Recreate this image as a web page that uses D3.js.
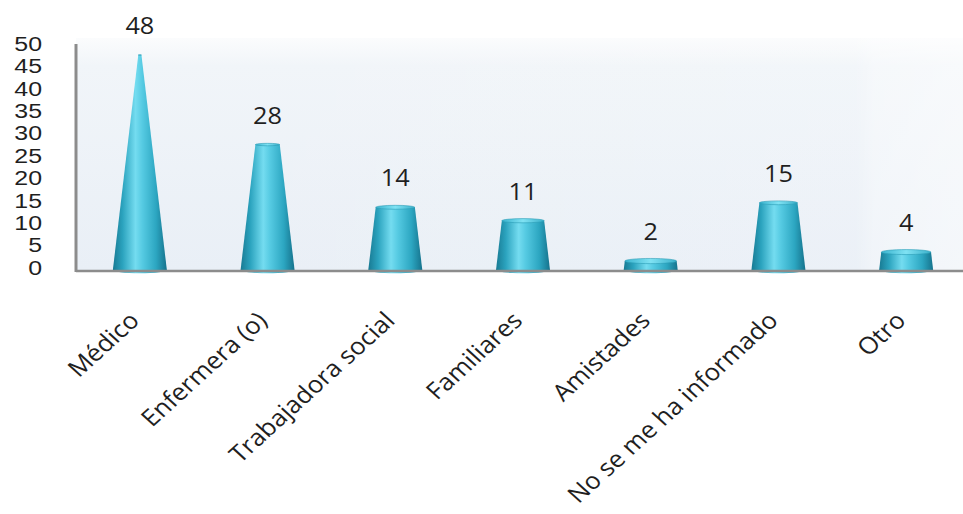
<!DOCTYPE html>
<html>
<head>
<meta charset="utf-8">
<script src="https://cdn.jsdelivr.net/npm/d3@7"></script>
<style>
  html, body { margin: 0; padding: 0; background: #fff; }
  svg { display: block; }
</style>
</head>
<body>
<svg id="chart" width="963" height="514"></svg>
<script>
const categories = ["Médico", "Enfermera (o)", "Trabajadora social", "Familiares", "Amistades", "No se me ha informado", "Otro"];
const values = [48, 28, 14, 11, 2, 15, 4];
const yTicks = [0, 5, 10, 15, 20, 25, 30, 35, 40, 45, 50];

const svg = d3.select("#chart");
const W = 963, H = 514;
const plot = { left: 76, right: 970, top: 46, bottom: 270 };
const SX = 1.1; // horizontal stretch of the original picture's text

const x = d3.scaleBand().domain(categories).range([plot.left, plot.right]).padding(0);
const y = d3.scaleLinear().domain([0, 50]).range([plot.bottom, plot.top]);
// cone half-width shrinks linearly toward an apex slightly above the axis max
const halfW = d3.scaleLinear().domain([0, 51]).range([27, 0]);

const defs = svg.append("defs");
const bg = defs.append("linearGradient").attr("id", "bgGrad")
  .attr("x1", 0).attr("y1", 0).attr("x2", 0).attr("y2", 1);
bg.append("stop").attr("offset", 0).attr("stop-color", "#fbfcfd");
bg.append("stop").attr("offset", 0.12).attr("stop-color", "#f1f5f9");
bg.append("stop").attr("offset", 1).attr("stop-color", "#e9eff6");

const bgH = defs.append("linearGradient").attr("id", "bgGradH")
  .attr("x1", 0).attr("y1", 0).attr("x2", 1).attr("y2", 0);
bgH.append("stop").attr("offset", 0).attr("stop-color", "#ffffff").attr("stop-opacity", 0);
bgH.append("stop").attr("offset", 0.88).attr("stop-color", "#ffffff").attr("stop-opacity", 0.1);
bgH.append("stop").attr("offset", 0.9).attr("stop-color", "#ffffff").attr("stop-opacity", 0.35);
bgH.append("stop").attr("offset", 1).attr("stop-color", "#ffffff").attr("stop-opacity", 0.5);

const cone = defs.append("linearGradient").attr("id", "coneGrad")
  .attr("x1", 0).attr("y1", 0).attr("x2", 1).attr("y2", 0);
[[0, "#187a93"], [0.18, "#2ba3be"], [0.42, "#74dcf0"], [0.55, "#55cae2"], [0.8, "#2ca6c1"], [1, "#15728c"]]
  .forEach(([o, c]) => cone.append("stop").attr("offset", o).attr("stop-color", c));

const topG = defs.append("linearGradient").attr("id", "topGrad")
  .attr("x1", 0).attr("y1", 0).attr("x2", 1).attr("y2", 0);
[[0, "#3ab4cf"], [0.5, "#7fe2f3"], [1, "#3ab0ca"]]
  .forEach(([o, c]) => topG.append("stop").attr("offset", o).attr("stop-color", c));

// plot background
svg.append("rect")
  .attr("x", plot.left).attr("y", plot.top - 8)
  .attr("width", W - plot.left).attr("height", plot.bottom - plot.top + 8)
  .attr("fill", "url(#bgGrad)");
svg.append("rect")
  .attr("x", plot.left).attr("y", plot.top - 8)
  .attr("width", W - plot.left).attr("height", plot.bottom - plot.top + 8)
  .attr("fill", "url(#bgGradH)");

// cones
const g = svg.append("g");
const data = categories.map((c, i) => ({ c, v: values[i] }));
const coneG = g.selectAll("g.cone").data(data).join("g").attr("class", "cone");

coneG.append("path")
  .attr("d", d => {
    const cx = x(d.c) + x.bandwidth() / 2;
    const hb = halfW(0), ht = halfW(d.v);
    const yb = y(0), yt = y(d.v);
    const ryb = hb * 0.12;
    return `M${cx - hb},${yb} L${cx - ht},${yt} L${cx + ht},${yt} L${cx + hb},${yb} A${hb},${ryb} 0 0 1 ${cx - hb},${yb} Z`;
  })
  .attr("fill", "url(#coneGrad)");

coneG.append("ellipse")
  .attr("cx", d => x(d.c) + x.bandwidth() / 2)
  .attr("cy", d => y(d.v))
  .attr("rx", d => halfW(d.v))
  .attr("ry", d => halfW(d.v) * 0.1)
  .attr("fill", "url(#topGrad)")
  .attr("stroke", "#2a9cb6").attr("stroke-width", 0.6);

// axes lines
svg.append("line")
  .attr("x1", plot.left).attr("x2", W)
  .attr("y1", y(0) + 1).attr("y2", y(0) + 1)
  .attr("stroke", "#8c8c8c").attr("stroke-width", 2.5);
svg.append("line")
  .attr("x1", plot.left).attr("x2", plot.left)
  .attr("y1", plot.top - 2).attr("y2", y(0) + 2)
  .attr("stroke", "#8c8c8c").attr("stroke-width", 3);

// y axis labels
const TSX = 1.28;
const yAxis = d3.axisLeft(y).tickValues(yTicks).tickSize(0).tickPadding(34 / TSX);
const ya = svg.append("g").attr("transform", `translate(${plot.left},-2)`).call(yAxis);
ya.select(".domain").remove();
ya.selectAll("text")
  .attr("font-family", "'Liberation Sans', Arial, sans-serif")
  .attr("font-size", 19.5)
  .attr("fill", "#1f1f1f")
  .attr("transform", `scale(${TSX},1)`);

// value labels
svg.append("g").selectAll("text").data(data).join("text")
  .attr("transform", d => `translate(${x(d.c) + x.bandwidth() / 2},${y(d.v) - 21}) scale(${SX},1)`)
  .attr("text-anchor", "middle")
  .attr("font-family", "'Open Sans', sans-serif")
  .attr("font-size", 23)
  .attr("fill", "#1f1f1f")
  .text(d => d.v);

// category labels
svg.append("g").selectAll("text").data(categories).join("text")
  .attr("transform", d => `translate(${x(d) + x.bandwidth() / 2 + 1},322) scale(${SX},1) rotate(-45)`)
  .attr("text-anchor", "end")
  .attr("font-family", "'Open Sans', sans-serif")
  .attr("font-size", 23.5)
  .attr("fill", "#1f1f1f")
  .text(d => d);
</script>
</body>
</html>
